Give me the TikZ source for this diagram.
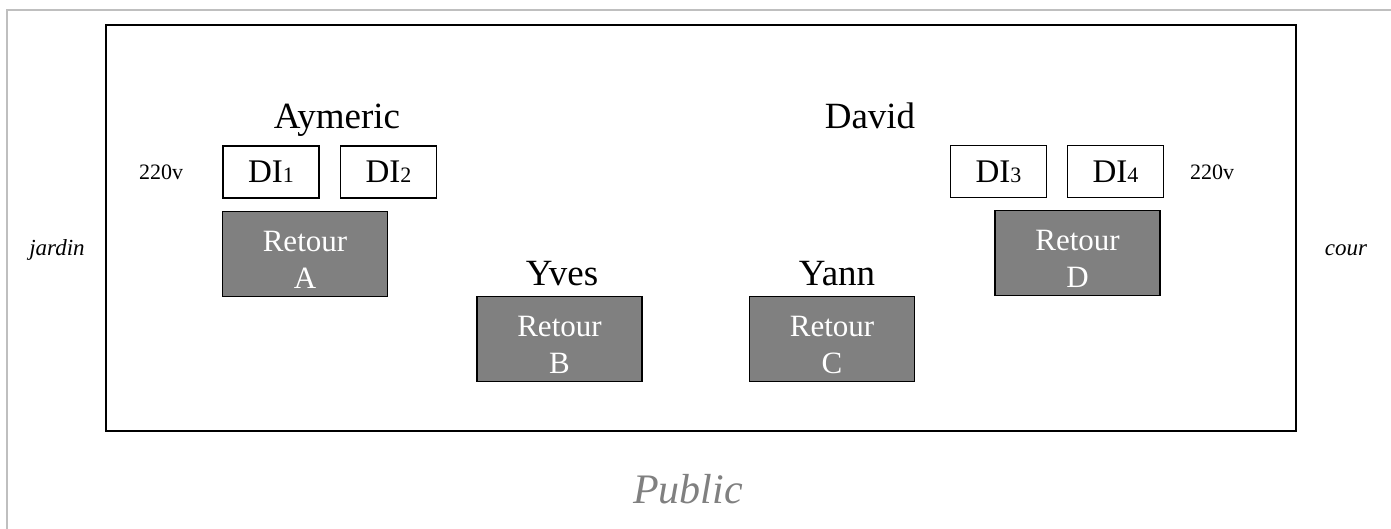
\documentclass[tikz,border=0pt]{standalone}
\usepackage{fontspec}
\setmainfont{Liberation Serif}
\usetikzlibrary{calc}
\tikzset{
	dibox/.style={draw=black, line width=1.2pt, fill=white, minimum width=96pt, minimum height=52pt, inner sep=0pt, font=\fontsize{33}{36}\selectfont},
	retourbox/.style={draw=black, line width=1.6pt, fill=black!50, minimum width=165pt, minimum height=85pt, inner sep=0pt},
	retourtext/.style={text=white, align=center, inner sep=0pt, font=\fontsize{31}{37}\selectfont},
	musician/.style={anchor=base, inner sep=0pt, font=\fontsize{37}{40}\selectfont},
	plug/.style={anchor=base, inner sep=0pt, font=\fontsize{22}{24}\selectfont},
	side/.style={anchor=base, inner sep=0pt, font=\fontsize{23}{25}\selectfont\itshape}
}
\newcommand{\smallnum}[1]{{\fontsize{22}{24}\selectfont #1}}
\begin{document}
\begin{tikzpicture}[x=1pt, y=-1pt]
			%%%%% STAGE %%%%%
			\useasboundingbox (0, 0) rectangle (1391, 529);
			
			\draw[line width=2pt, color=black!25] (7, 529) -- (7, 10) -- (1391, 10);
			\draw[line width=1.6pt] (106, 25) rectangle (1296, 431);
			
			\node[musician] (aymeric) at (337, 129) {Aymeric};
			\node[musician] (david) at (870, 129) {David};
			\node[musician] (yves) at (562, 285) {Yves};
			\node[musician] (yann) at (837, 285) {Yann};
			
			\node[dibox] (di1) at (271, 172) {DI\smallnum{1}};
			\node[dibox] (di2) at (388.5, 172) {DI\smallnum{2}};
			\node[dibox] (di3) at (998.5, 171.5) {DI\smallnum{3}};
			\node[dibox] (di4) at (1115.5, 171.5) {DI\smallnum{4}};
			
			\node[plug] (plugL) at (161, 180) {220v};
			\node[plug] (plugR) at (1212, 180) {220v};
			
			\node[retourbox] (retA) at (305, 254) {};
			\node[retourbox] (retB) at (559.5, 339) {};
			\node[retourbox] (retC) at (832, 339) {};
			\node[retourbox] (retD) at (1077.5, 253) {};
			\node[retourtext] (txtA) at ($(retA.center)+(0, 6)$) {Retour\\A};
			\node[retourtext] (txtB) at ($(retB.center)+(0, 6)$) {Retour\\B};
			\node[retourtext] (txtC) at ($(retC.center)+(0, 6)$) {Retour\\C};
			\node[retourtext] (txtD) at ($(retD.center)+(0, 6)$) {Retour\\D};
			
			\node[side] (jardin) at (57, 255) {jardin};
			\node[side] (cour) at (1346, 255) {cour};
			
			\node[anchor=base, inner sep=0pt, text=black!50, font=\fontsize{42}{46}\selectfont\itshape] (public) at (688, 503) {Public};
			%%%%% END %%%%%
		\end{tikzpicture}
\end{document}
